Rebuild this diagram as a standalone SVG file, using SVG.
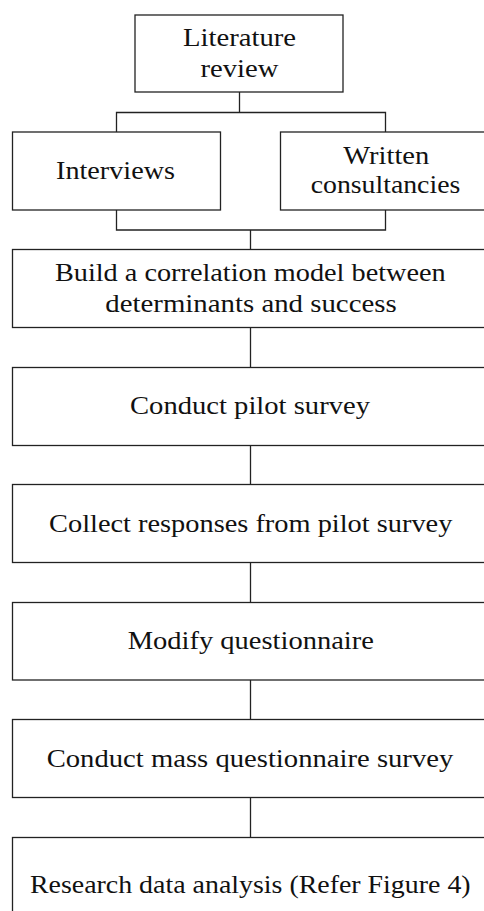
<svg xmlns="http://www.w3.org/2000/svg" width="484" height="911" viewBox="0 0 484 911">
<style>
rect.box{fill:#fff;stroke:#222;stroke-width:1.3}
.conn path{fill:none;stroke:#222;stroke-width:1.3}
text{font-family:"Liberation Serif","Times New Roman",serif;font-size:26px;fill:#111;text-anchor:middle}
</style>
<rect width="484" height="911" fill="#fff"/>
<g id="connectors" class="conn">
<path d="M239.5 92 V112.5 M116.5 132 V112.5 H385.5 V132"/>
<path d="M116.5 210 V230 H385.5 V210 M250.5 230 V249.5"/>
<path d="M250.5 327.5 V367.5"/>
<path d="M250.5 445.5 V484.5"/>
<path d="M250.5 562.5 V602.5"/>
<path d="M250.5 680 V719.5"/>
<path d="M250.5 797.5 V837.5"/>
</g>
<g id="literature-review">
<rect class="box" x="135" y="15" width="208" height="77"/>
<text x="239.5" y="46" textLength="113" lengthAdjust="spacingAndGlyphs">Literature</text>
<text x="239.5" y="76.5" textLength="78" lengthAdjust="spacingAndGlyphs">review</text>
</g>
<g id="interviews">
<rect class="box" x="12.5" y="132" width="208" height="78"/>
<text x="115.5" y="179.3" textLength="119" lengthAdjust="spacingAndGlyphs">Interviews</text>
</g>
<g id="written-consultancies">
<rect class="box" x="280.5" y="132" width="210" height="78"/>
<text x="386.3" y="164" textLength="86" lengthAdjust="spacingAndGlyphs">Written</text>
<text x="385.5" y="193.3" textLength="149.6" lengthAdjust="spacingAndGlyphs">consultancies</text>
</g>
<g id="build-model">
<rect class="box" x="12.5" y="249.5" width="478" height="78"/>
<text x="250.3" y="281" textLength="390.7" lengthAdjust="spacingAndGlyphs">Build a correlation model between</text>
<text x="251" y="311.5" textLength="291.4" lengthAdjust="spacingAndGlyphs">determinants and success</text>
</g>
<g id="pilot-survey">
<rect class="box" x="12.5" y="367.5" width="478" height="78"/>
<text x="250" y="414" textLength="240" lengthAdjust="spacingAndGlyphs">Conduct pilot survey</text>
</g>
<g id="collect-responses">
<rect class="box" x="12.5" y="484.5" width="478" height="78"/>
<text x="250.7" y="531.7" textLength="403.3" lengthAdjust="spacingAndGlyphs">Collect responses from pilot survey</text>
</g>
<g id="modify-questionnaire">
<rect class="box" x="12.5" y="602.5" width="478" height="77.5"/>
<text x="250.8" y="649" textLength="246.3" lengthAdjust="spacingAndGlyphs">Modify questionnaire</text>
</g>
<g id="mass-survey">
<rect class="box" x="12.5" y="719.5" width="478" height="78"/>
<text x="250" y="767" textLength="406.6" lengthAdjust="spacingAndGlyphs">Conduct mass questionnaire survey</text>
</g>
<g id="data-analysis">
<rect class="box" x="12.5" y="837.5" width="478" height="80"/>
<text x="250.3" y="893.3" textLength="440.7" lengthAdjust="spacingAndGlyphs">Research data analysis (Refer Figure 4)</text>
</g>
</svg>
